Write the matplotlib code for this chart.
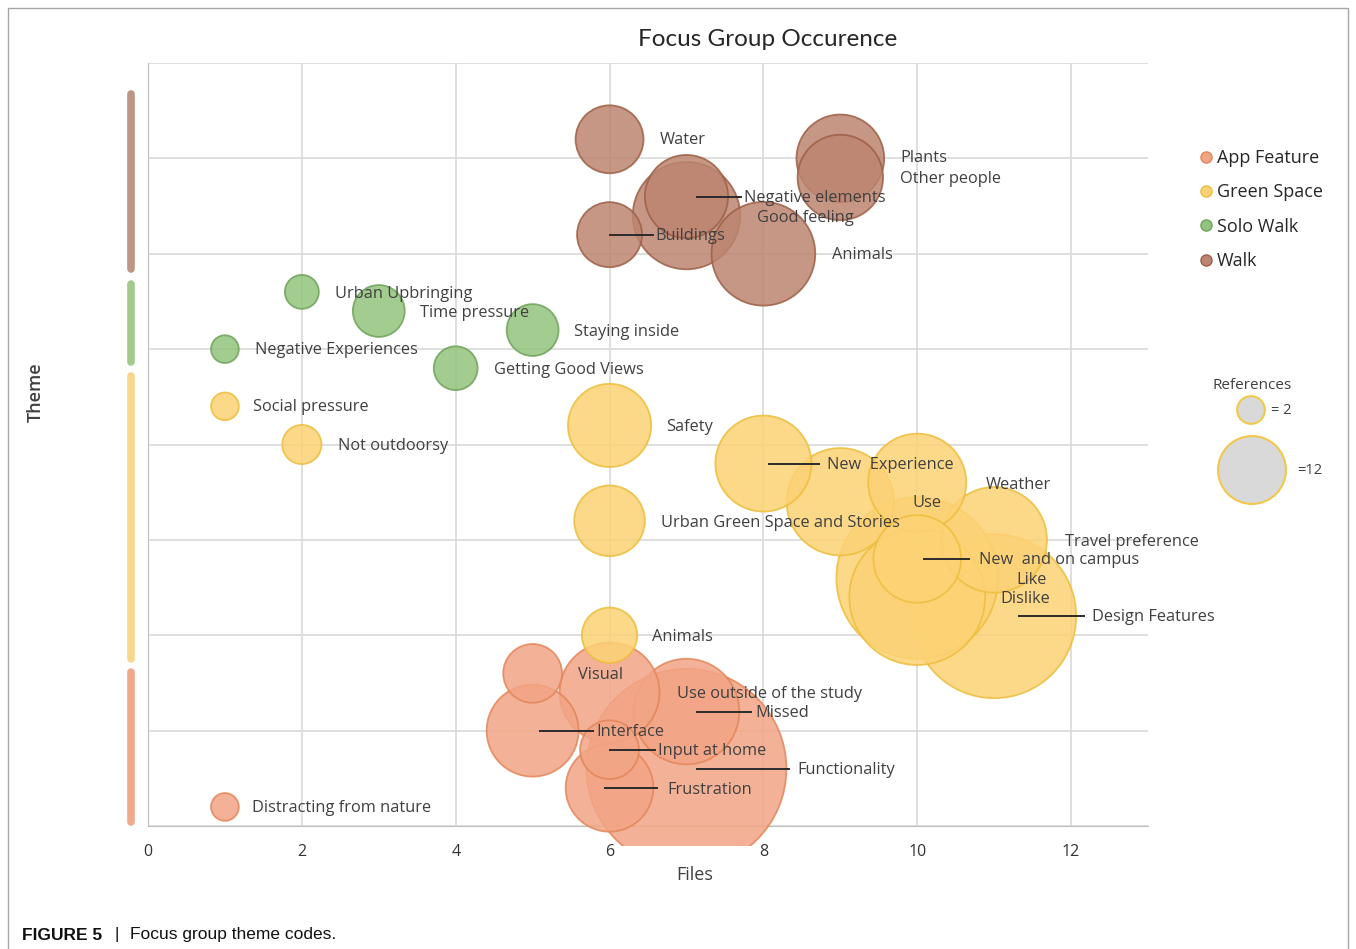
import matplotlib
matplotlib.use("Agg")
import matplotlib.pyplot as plt
from matplotlib.lines import Line2D
from matplotlib.patches import Rectangle
import matplotlib.transforms as mtransforms

# Focus group theme codes - bubble chart (files vs theme, bubble = references)

# ---- data ----
app_names = ["Visual", "Use outside of the study", "Missed", "Interface",
             "Input at home", "Functionality", "Frustration", "Distracting from nature"]
app_files = [5, 6, 7, 5, 6, 7, 6, 1]
app_y = [1.6, 1.4, 1.2, 1.0, 0.8, 0.6, 0.4, 0.2]
app_refs = [9, 26, 29, 22, 9, 104, 20, 2]

green_names = ["Social pressure", "Safety", "Not outdoorsy", "New  Experience", "Weather",
               "Use", "Urban Green Space and Stories", "Travel preference",
               "New  and on campus", "Like", "Dislike", "Design Features", "Animals"]
green_files = [1, 6, 2, 8, 10, 9, 6, 11, 10, 10, 10, 11, 6]
green_y = [4.4, 4.2, 4.0, 3.8, 3.6, 3.4, 3.2, 3.0, 2.8, 2.6, 2.4, 2.2, 2.0]
green_refs = [2, 18, 4, 24, 25, 30, 13, 29, 20, 68, 48, 70, 8]

solo_names = ["Urban Upbringing", "Time pressure", "Staying inside",
              "Negative Experiences", "Getting Good Views"]
solo_files = [2, 3, 5, 1, 4]
solo_y = [5.6, 5.4, 5.2, 5.0, 4.8]
solo_refs = [3, 7, 7, 2, 5]

walk_names = ["Water", "Plants", "Other people", "Negative elements",
              "Good feeling", "Buildings", "Animals"]
walk_files = [6, 9, 9, 7, 7, 6, 8]
walk_y = [7.2, 7.0, 6.8, 6.6, 6.4, 6.2, 6.0]
walk_refs = [12, 20, 19, 18, 30, 11, 28]

series_names = ["App Feature", "Green Space", "Solo Walk", "Walk"]
theme_spans = [(0.0, 1.65), (1.71, 4.76), (4.83, 5.72), (5.80, 7.71)]

# ---- styles ----
fills = ["#F2A585", "#FCD275", "#93C47D", "#BC8570"]
edges = ["#E3865A", "#EDBE3C", "#6FA35A", "#9E5F46"]
bars = ["#EFAA8C", "#F8D78C", "#A3C98D", "#BE9687"]

# label offsets in pixels from bubble centre: (text dx, text dy, leader start, leader end)
app_lab = [(45, -2, None, None), (67, -2, None, None), (69, -1, 11, 65), (64, -1, 7, 60),
           (48, -1, 0, 45), (111, -1, 11, 103), (58, -2, -5, 47), (27, -1, None, None)]
green_lab = [(28, -1, None, None), (57, -2, None, None), (36, -1, None, None), (64, -1, 6, 56),
             (69, -2, None, None), (72, -1, None, None), (51, -2, None, None), (71, -2, None, None),
             (62, -1, 7, 52), (99, -2, None, None), (83, -2, None, None), (98, -1, 25, 90),
             (42, -2, None, None)]
solo_lab = [(33, -2, None, None), (41, -2, None, None), (41, -2, None, None),
            (30, -1, None, None), (38, -2, None, None)]
walk_lab = [(50, -1, None, None), (60, 0, None, None), (60, -2, None, None), (58, -1, 11, 55),
            (71, -2, None, None), (46, -1, 0, 43), (69, -1, None, None)]

label_font = "Open Sans"
txt_col = "#404040"


def bubble_size(refs):
    # area proportional to references, 9.8 px radius per sqrt(ref) at 100 dpi
    return (2 * 0.72 * 9.8) ** 2 * refs


fig = plt.figure(figsize=(13.56, 9.49), dpi=100)
ax = fig.add_axes([148 / 1356, 1 - 826 / 949, 1000 / 1356, 763 / 949])
ax.set_xlim(0, 13)
ax.set_ylim(0, 8)
ax.set_xticks(range(0, 13, 2))
ax.set_yticks(range(0, 9))
ax.set_yticklabels([])
ax.tick_params(axis="both", length=0)
ax.tick_params(axis="x", pad=13, labelsize=11.5, labelcolor="#333333")
for t in ax.get_xticklabels():
    t.set_fontfamily(label_font)
ax.grid(True, color="#D9D9D9", linewidth=1.2)
ax.set_axisbelow(True)
for s in ["top", "right"]:
    ax.spines[s].set_visible(False)
ax.spines["left"].set_color("#BFBFBF")
ax.spines["bottom"].set_color("#BFBFBF")

all_series = [
    (app_names, app_files, app_y, app_refs, app_lab),
    (green_names, green_files, green_y, green_refs, green_lab),
    (solo_names, solo_files, solo_y, solo_refs, solo_lab),
    (walk_names, walk_files, walk_y, walk_refs, walk_lab),
]

fig.canvas.draw()
to_data = ax.transData.inverted()
# bubbles may spill a little below the axis line, like the original
clip_rect = Rectangle((0, -20 / 763), 1, 1 + 20 / 763, transform=ax.transAxes)

for i, (names, xs, ys, refs, labs) in enumerate(all_series):
    order = sorted(range(len(xs)), key=lambda k: -refs[k])
    sc = ax.scatter([xs[k] for k in order], [ys[k] for k in order],
                    s=[bubble_size(refs[k]) for k in order],
                    color=fills[i], edgecolor=edges[i], linewidth=1.3, alpha=0.85, zorder=3)
    sc.set_clip_path(clip_rect)
    for k in range(len(xs)):
        dx, dy, l0, l1 = labs[k]
        ax.annotate(names[k], xy=(xs[k], ys[k]), xytext=(dx, dy), textcoords="offset pixels",
                    ha="left", va="center", fontsize=11.8, color=txt_col,
                    fontfamily=label_font, zorder=6)
        if l0 is not None:
            px, py = ax.transData.transform((xs[k], ys[k]))
            p0 = to_data.transform((px + l0, py))
            p1 = to_data.transform((px + l1, py))
            ax.plot([p0[0], p1[0]], [p0[1], p1[1]], color="#2b2b2b", linewidth=1.4, zorder=5)

# theme bars on the left side
bt = mtransforms.blended_transform_factory(ax.transAxes, ax.transData)
for i, (y0, y1) in enumerate(theme_spans):
    ax.plot([-0.017, -0.017], [y0 + 0.04, y1 - 0.04], transform=bt, color=bars[i],
            linewidth=5.5, solid_capstyle="round", clip_on=False)

fig.text(768 / 1356, 1 - 39 / 949, "Focus Group Occurence", fontsize=17.5, fontfamily="Lato",
         color="#262626", ha="center", va="center")
ax.set_xlabel("Files", fontsize=13, fontfamily=label_font, color=txt_col)
ax.xaxis.set_label_coords((695 - 148) / 1000, -(866 - 826) / 763)
ax.set_ylabel("Theme", fontsize=13, fontfamily=label_font, color=txt_col, fontweight="semibold")
ax.yaxis.set_label_coords(-(148 - 45) / 1000, (826 - 392) / 763)

# series legend
handles = [Line2D([], [], marker="o", linestyle="", markersize=8, markerfacecolor=fills[i],
                  markeredgecolor=edges[i]) for i in range(4)]
leg = fig.legend(handles, series_names, loc="upper left", bbox_to_anchor=(1190 / 1356, 1 - 142 / 949),
                 frameon=False, fontsize=13, handletextpad=0.1, labelspacing=0.9,
                 handlelength=1.0, borderaxespad=0)
for t in leg.get_texts():
    t.set_fontfamily(label_font)
    t.set_color("#262626")

# bubble size key
ax.text(1.104, (826 - 385) / 763, "References", transform=ax.transAxes, ha="center", va="center",
        fontsize=11, fontfamily=label_font, color=txt_col)
ax.scatter([1.103, 1.104], [(826 - 410) / 763, (826 - 470) / 763], s=[bubble_size(2), bubble_size(12)],
           transform=ax.transAxes, color="#D9D9D9", edgecolor="#F2C84B", linewidth=1.5, clip_on=False)
ax.text(1.123, (826 - 410) / 763, "= 2", transform=ax.transAxes, ha="left", va="center",
        fontsize=10.5, fontfamily=label_font, color=txt_col)
ax.text(1.149, (826 - 470) / 763, "=12", transform=ax.transAxes, ha="left", va="center",
        fontsize=10.5, fontfamily=label_font, color=txt_col)

# outer frame and caption
fig.add_artist(Line2D([8 / 1356, 8 / 1356, 1348 / 1356, 1348 / 1356],
                      [0, 1 - 8 / 949, 1 - 8 / 949, 0], color="#A6A6A6", linewidth=1))
cap_font = ["Liberation Sans Narrow", "Liberation Sans", "DejaVu Sans"]
fig.text(22 / 1356, 1 - 935 / 949, "FIGURE 5", fontsize=12.5, fontweight="bold",
         fontfamily=cap_font, va="center", color="#111111")
fig.text(114 / 1356, 1 - 935 / 949, "|", fontsize=12.5, fontfamily=cap_font, va="center", color="#111111")
fig.text(130 / 1356, 1 - 935 / 949, "Focus group theme codes.", fontsize=12.5,
         fontfamily=cap_font, va="center", color="#111111")

fig.savefig("out.png", dpi=100)
